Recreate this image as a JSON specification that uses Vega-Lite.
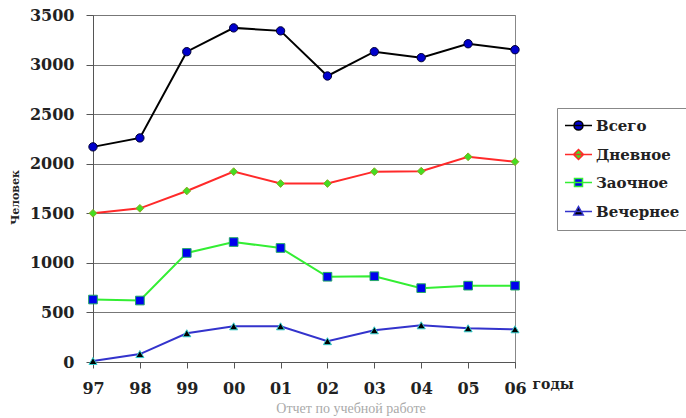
{
  "$schema": "https://vega.github.io/schema/vega-lite/v6.json",
  "width": 422,
  "height": 347,
  "autosize": {"type": "none"},
  "padding": {"left": 93, "top": 15, "right": 171, "bottom": 56},
  "background": "white",
  "title": {
    "text": "Отчет по учебной работе",
    "orient": "bottom",
    "anchor": "middle",
    "font": "Liberation Serif",
    "fontSize": 14,
    "fontWeight": "normal",
    "color": "#aaaaaa",
    "dx": 47,
    "offset": 6
  },
  "data": {
    "values": [
      {"year": "97", "series": "Всего", "value": 2170},
      {"year": "98", "series": "Всего", "value": 2260},
      {"year": "99", "series": "Всего", "value": 3130},
      {"year": "00", "series": "Всего", "value": 3370},
      {"year": "01", "series": "Всего", "value": 3340},
      {"year": "02", "series": "Всего", "value": 2885},
      {"year": "03", "series": "Всего", "value": 3130},
      {"year": "04", "series": "Всего", "value": 3070},
      {"year": "05", "series": "Всего", "value": 3210},
      {"year": "06", "series": "Всего", "value": 3150},
      {"year": "97", "series": "Дневное", "value": 1500},
      {"year": "98", "series": "Дневное", "value": 1550},
      {"year": "99", "series": "Дневное", "value": 1725},
      {"year": "00", "series": "Дневное", "value": 1920},
      {"year": "01", "series": "Дневное", "value": 1800},
      {"year": "02", "series": "Дневное", "value": 1800},
      {"year": "03", "series": "Дневное", "value": 1920},
      {"year": "04", "series": "Дневное", "value": 1925},
      {"year": "05", "series": "Дневное", "value": 2070},
      {"year": "06", "series": "Дневное", "value": 2020},
      {"year": "97", "series": "Заочное", "value": 630},
      {"year": "98", "series": "Заочное", "value": 620},
      {"year": "99", "series": "Заочное", "value": 1100},
      {"year": "00", "series": "Заочное", "value": 1210},
      {"year": "01", "series": "Заочное", "value": 1150},
      {"year": "02", "series": "Заочное", "value": 860},
      {"year": "03", "series": "Заочное", "value": 865},
      {"year": "04", "series": "Заочное", "value": 745},
      {"year": "05", "series": "Заочное", "value": 770},
      {"year": "06", "series": "Заочное", "value": 770},
      {"year": "97", "series": "Вечернее", "value": 10},
      {"year": "98", "series": "Вечернее", "value": 80},
      {"year": "99", "series": "Вечернее", "value": 290},
      {"year": "00", "series": "Вечернее", "value": 360},
      {"year": "01", "series": "Вечернее", "value": 360},
      {"year": "02", "series": "Вечернее", "value": 210},
      {"year": "03", "series": "Вечернее", "value": 320},
      {"year": "04", "series": "Вечернее", "value": 370},
      {"year": "05", "series": "Вечернее", "value": 340},
      {"year": "06", "series": "Вечернее", "value": 330}
    ]
  },
  "encoding": {
    "x": {
      "field": "year",
      "type": "ordinal",
      "sort": ["97", "98", "99", "00", "01", "02", "03", "04", "05", "06"],
      "scale": {"type": "point", "padding": 0},
      "axis": {
        "title": "годы",
        "labelAngle": 0,
        "labelFont": "DejaVu Serif",
        "labelFontWeight": "bold",
        "labelFontSize": 16,
        "labelColor": "#222222",
        "labelPadding": 12,
        "tickSize": 6,
        "tickColor": "#555555",
        "domainColor": "#555555",
        "grid": false,
        "titleFont": "DejaVu Serif",
        "titleFontWeight": "bold",
        "titleFontSize": 14,
        "titleColor": "#222222",
        "titleAnchor": "start",
        "titleAlign": "left",
        "titleBaseline": "middle",
        "titleX": 439,
        "titleY": 22
      }
    },
    "y": {
      "field": "value",
      "type": "quantitative",
      "scale": {"domain": [0, 3500], "nice": false},
      "axis": {
        "title": "Человек",
        "values": [0, 500, 1000, 1500, 2000, 2500, 3000, 3500],
        "format": "d",
        "labelFont": "DejaVu Serif",
        "labelFontWeight": "bold",
        "labelFontSize": 16,
        "labelColor": "#222222",
        "labelPadding": 12,
        "tickSize": 7,
        "tickColor": "#555555",
        "domainColor": "#555555",
        "gridColor": "#777777",
        "gridWidth": 1,
        "titleFont": "DejaVu Serif",
        "titleFontWeight": "bold",
        "titleFontSize": 11,
        "titleColor": "#222222",
        "titleAngle": -90,
        "titleAlign": "center",
        "titleBaseline": "middle",
        "titleX": -78,
        "titleY": 182
      }
    }
  },
  "layer": [
    {
      "mark": {"type": "line", "strokeWidth": 2},
      "encoding": {
        "stroke": {
          "field": "series",
          "type": "nominal",
          "scale": {
            "domain": ["Всего", "Дневное", "Заочное", "Вечернее"],
            "range": ["#000000", "#ff2a2a", "#33ee33", "#3333cc"]
          },
          "legend": {"title": null, "labelFont": "DejaVu Serif", "labelFontWeight": "bold", "labelFontSize": 15}
        }
      }
    },
    {
      "transform": [{"filter": {"field": "series", "equal": "Всего"}}],
      "mark": {"type": "point", "shape": "circle", "filled": true, "fill": "#0000cc", "stroke": "#000033", "strokeWidth": 1, "size": 70, "opacity": 1}
    },
    {
      "transform": [{"filter": {"field": "series", "equal": "Дневное"}}],
      "mark": {"type": "point", "shape": "diamond", "filled": true, "fill": "#44dd22", "stroke": "#88aa22", "strokeWidth": 1, "size": 60, "opacity": 1}
    },
    {
      "transform": [{"filter": {"field": "series", "equal": "Заочное"}}],
      "mark": {"type": "point", "shape": "square", "filled": true, "fill": "#0000ee", "stroke": "#22aa66", "strokeWidth": 1, "size": 75, "opacity": 1}
    },
    {
      "transform": [{"filter": {"field": "series", "equal": "Вечернее"}}],
      "mark": {"type": "point", "shape": "triangle-up", "filled": true, "fill": "#000000", "stroke": "#33cccc", "strokeWidth": 1, "size": 65, "opacity": 1}
    },
    {
      "mark": {"type": "point", "filled": true, "opacity": 0, "size": 100},
      "encoding": {
        "shape": {
          "field": "series",
          "type": "nominal",
          "scale": {
            "domain": ["Всего", "Дневное", "Заочное", "Вечернее"],
            "range": [
              "M-2.7,0L2.7,0M0.9,0A0.9,0.9,0,1,1,-0.9,0A0.9,0.9,0,1,1,0.9,0Z",
              "M-2.7,0L2.7,0M0,-1L1,0L0,1L-1,0Z",
              "M-2.7,0L2.7,0M-0.8,-0.8L0.8,-0.8L0.8,0.8L-0.8,0.8Z",
              "M-2.7,0L2.7,0M0,-1L0.95,0.7L-0.95,0.7Z"
            ]
          },
          "legend": {"title": null, "labelFont": "DejaVu Serif", "labelFontWeight": "bold", "labelFontSize": 15}
        },
        "fill": {
          "field": "series",
          "type": "nominal",
          "scale": {
            "domain": ["Всего", "Дневное", "Заочное", "Вечернее"],
            "range": ["#0000cc", "#44dd22", "#0000ee", "#000000"]
          },
          "legend": {"title": null, "labelFont": "DejaVu Serif", "labelFontWeight": "bold", "labelFontSize": 15}
        },
        "stroke": {
          "field": "series",
          "type": "nominal",
          "legend": {"title": null, "labelFont": "DejaVu Serif", "labelFontWeight": "bold", "labelFontSize": 15}
        }
      }
    }
  ],
  "config": {
    "view": {"stroke": "#888888", "strokeWidth": 1},
    "legend": {
      "orient": "none",
      "legendX": 464,
      "legendY": 93,
      "padding": 10,
      "strokeColor": "#888888",
      "fillColor": "white",
      "labelFont": "DejaVu Serif",
      "labelFontWeight": "bold",
      "labelFontSize": 15,
      "labelColor": "#222222",
      "symbolSize": 100,
      "symbolOpacity": 1,
      "symbolStrokeWidth": 1.5,
      "symbolOffset": 4,
      "labelOffset": 10,
      "rowPadding": 12
    }
  }
}
